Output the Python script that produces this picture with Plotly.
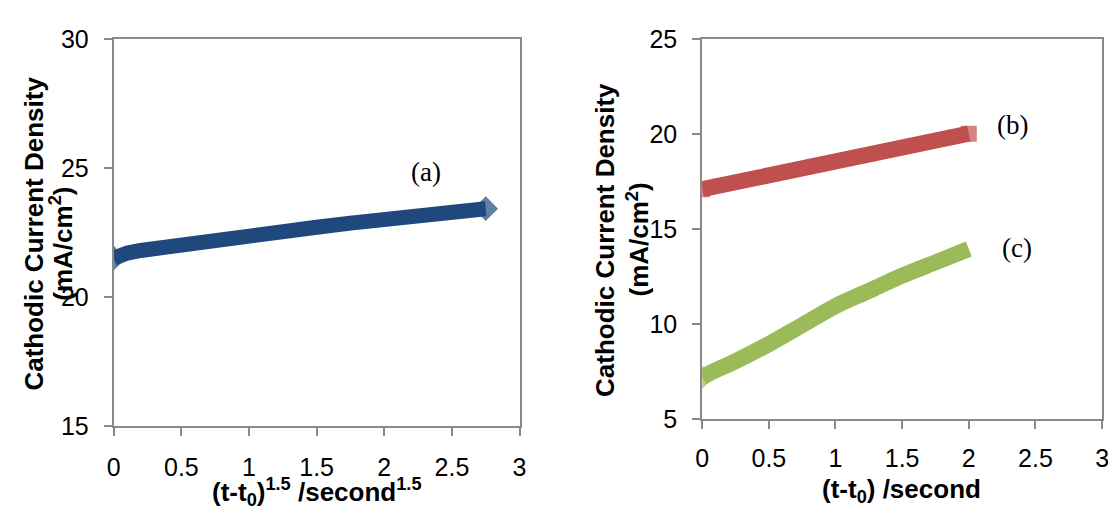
import plotly.graph_objects as go

# ---- data ----
a_x = [0, 0.05, 0.1, 0.2, 0.3, 0.5, 0.75, 1.0, 1.25, 1.5, 1.75, 2.0, 2.25, 2.5, 2.75]
a_y = [21.5, 21.63, 21.7, 21.8, 21.88, 22.03, 22.2, 22.37, 22.53, 22.7, 22.86, 23.0, 23.14, 23.28, 23.42]

b_x = [0, 0.25, 0.5, 0.75, 1.0, 1.25, 1.5, 1.75, 2.0]
b_y = [17.1, 17.45, 17.8, 18.18, 18.58, 18.94, 19.3, 19.66, 20.02]

c_x = [0, 0.05, 0.25, 0.5, 0.75, 1.0, 1.25, 1.5, 1.75, 2.0]
c_y = [7.2, 7.4, 8.05, 8.95, 9.95, 10.95, 11.75, 12.55, 13.25, 13.95]

left_x_ticks = [0, 0.5, 1, 1.5, 2, 2.5, 3]
left_y_ticks = [15, 20, 25, 30]
right_x_ticks = [0, 0.5, 1, 1.5, 2, 2.5, 3]
right_y_ticks = [5, 10, 15, 20, 25]

# page body adds an 8px margin; size the figure so it ends at the window edge
OFF = 8
W, H = 1116 - OFF, 523 - OFF


def px(x):
    return (x - OFF) / W


def py(y):
    return 1 - (y - OFF) / H


AX_COLOR = "#898989"
TICK_FONT = dict(family="Liberation Sans, Arial", size=25, color="black")
TITLE_FONT = dict(family="Liberation Sans, Arial", size=26, color="black")
LABEL_FONT = dict(family="Liberation Serif, Times New Roman", size=27, color="black")

fig = go.Figure()

n = len(a_x)
fig.add_trace(go.Scatter(
    x=a_x, y=a_y, mode="lines+markers", xaxis="x", yaxis="y",
    line=dict(color="#1F497D", width=15),
    marker=dict(symbol="diamond", color="#1F497D", line=dict(width=0),
                size=[19] + [0] * (n - 2) + [19]),
    showlegend=False, hoverinfo="skip"))

n = len(b_x)
fig.add_trace(go.Scatter(
    x=b_x, y=b_y, mode="lines+markers", xaxis="x2", yaxis="y2",
    line=dict(color="#C0504D", width=16),
    marker=dict(symbol="square", color="#C0504D", line=dict(width=0),
                size=[16] + [0] * (n - 2) + [16]),
    showlegend=False, hoverinfo="skip"))

n = len(c_x)
fig.add_trace(go.Scatter(
    x=c_x, y=c_y, mode="lines+markers", xaxis="x2", yaxis="y2",
    line=dict(color="#9BBB59", width=16, shape="spline", smoothing=0.8),
    marker=dict(symbol="diamond", color="#9BBB59", line=dict(width=0),
                size=[18] + [0] * (n - 1)),
    showlegend=False, hoverinfo="skip"))

axis_common = dict(
    showline=True, mirror=True, linecolor=AX_COLOR, linewidth=2,
    ticks="outside", ticklen=8, tickwidth=2, tickcolor=AX_COLOR,
    showgrid=False, zeroline=False, tickfont=TICK_FONT,
)

fig.update_layout(
    width=W, height=H,
    margin=dict(l=0, r=0, t=0, b=0),
    paper_bgcolor="white", plot_bgcolor="white",
    xaxis=dict(domain=[px(108), px(519)], range=[0, 3], anchor="y",
               tickvals=left_x_ticks, ticktext=[str(v) for v in left_x_ticks],
               ticklabelstandoff=10, **axis_common),
    yaxis=dict(domain=[py(435), py(26)], range=[15, 30], anchor="x",
               tickvals=left_y_ticks, ticklabelstandoff=10, **axis_common),
    xaxis2=dict(domain=[px(704), px(1109)], range=[0, 3], anchor="y2",
                tickvals=right_x_ticks, ticktext=[str(v) for v in right_x_ticks],
                ticklabelstandoff=8, **axis_common),
    yaxis2=dict(domain=[py(428), py(26)], range=[5, 25], anchor="x2",
                tickvals=right_y_ticks, ticklabelstandoff=10, **axis_common),
)

annotations = [
    # axis titles
    dict(text="<b>(t-t<sub>0</sub>)<sup>1.5</sup> /second<sup>1.5</sup></b>",
         x=px(314), y=py(505), xref="paper", yref="paper", showarrow=False,
         font=TITLE_FONT, xanchor="center", yanchor="middle"),
    dict(text="<b>(t-t<sub>0</sub>) /second</b>",
         x=px(906), y=py(503), xref="paper", yref="paper", showarrow=False,
         font=TITLE_FONT, xanchor="center", yanchor="middle"),
    dict(text="<b>Cathodic Current Density</b>", textangle=-90,
         x=px(27), y=py(232), xref="paper", yref="paper", showarrow=False,
         font=TITLE_FONT, xanchor="center", yanchor="middle"),
    dict(text="<b>(mA/cm<sup>2</sup>)</b>", textangle=-90,
         x=px(55), y=py(242), xref="paper", yref="paper", showarrow=False,
         font=TITLE_FONT, xanchor="center", yanchor="middle"),
    dict(text="<b>Cathodic Current Density</b>", textangle=-90,
         x=px(606), y=py(238), xref="paper", yref="paper", showarrow=False,
         font=TITLE_FONT, xanchor="center", yanchor="middle"),
    dict(text="<b>(mA/cm<sup>2</sup>)</b>", textangle=-90,
         x=px(639), y=py(238), xref="paper", yref="paper", showarrow=False,
         font=TITLE_FONT, xanchor="center", yanchor="middle"),
    # series labels
    dict(text="(a)", x=2.31, y=24.83, xref="x", yref="y", showarrow=False,
         font=LABEL_FONT),
    dict(text="(b)", x=2.33, y=20.47, xref="x2", yref="y2", showarrow=False,
         font=LABEL_FONT),
    dict(text="(c)", x=2.36, y=14.0, xref="x2", yref="y2", showarrow=False,
         font=LABEL_FONT),
]
fig.update_layout(annotations=annotations)

fig.write_html("out.html")
